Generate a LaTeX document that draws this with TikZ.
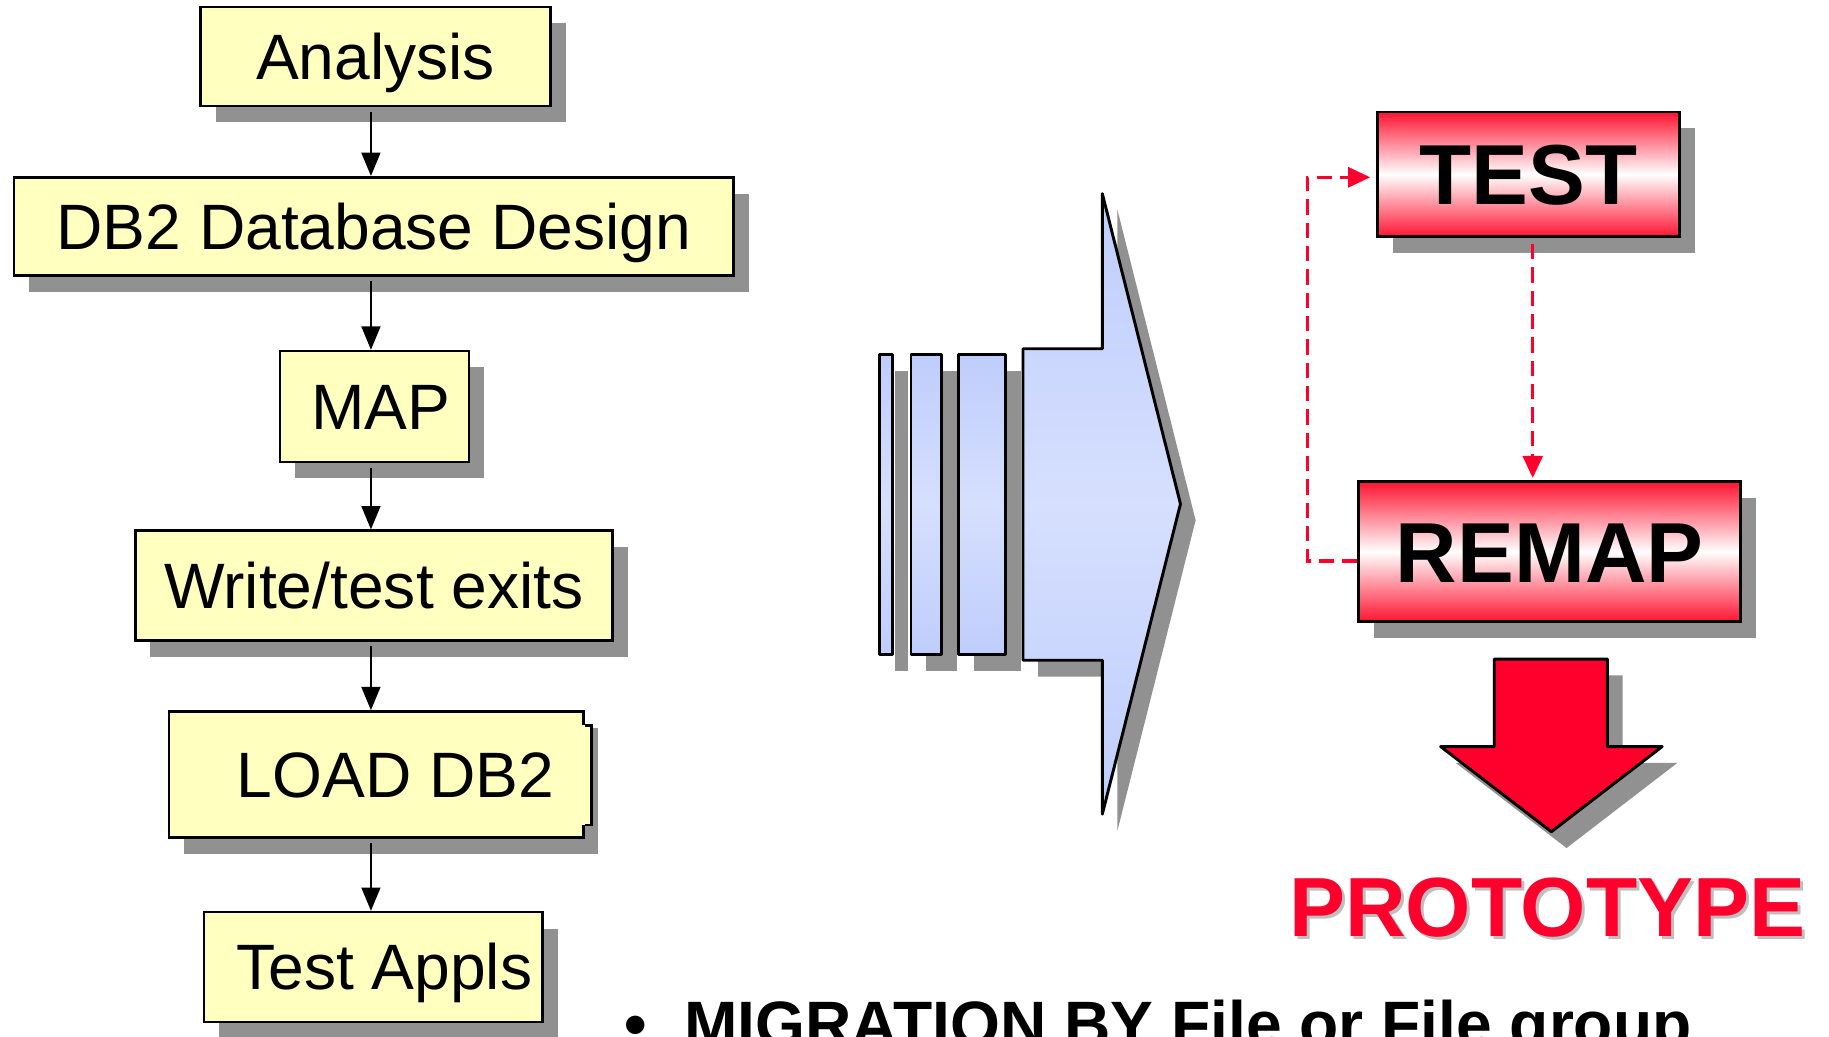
\documentclass[tikz,border=0pt]{standalone}
\usepackage{fontspec}
\setmainfont{Liberation Sans}
\usetikzlibrary{arrows.meta,shadows}

\definecolor{stepyellow}{RGB}{255,255,192}
\definecolor{shadowgray}{RGB}{145,145,145}
\definecolor{flowblue}{RGB}{190,205,252}
\definecolor{flowbluelight}{RGB}{214,223,253}
\definecolor{protored}{RGB}{255,0,44}
\definecolor{bandred}{RGB}{255,20,50}

\tikzset{
    boxshadow/.style={drop shadow={shadow xshift=13pt, shadow yshift=-14pt, fill=shadowgray, opacity=1}},
    stepbox/.style={draw, line width=2.2pt, fill=stepyellow, boxshadow, inner sep=0pt,
        text height=39pt, text depth=0pt, font=\fontsize{55}{66}\selectfont},
    flow/.style={line width=2.2pt, -{Triangle[length=20pt, width=16pt]}},
    redbox/.style={draw, line width=2.5pt, top color=bandred, bottom color=bandred, middle color=white,
        boxshadow, inner sep=0pt, text height=52pt, text depth=0pt, font=\fontsize{73}{88}\selectfont\bfseries},
    retryline/.style={protored, line width=3pt, dash pattern=on 13pt off 7pt, -{Triangle[length=19pt, width=17pt]}},
    blueshape/.style={draw, line width=2.5pt, line join=round, top color=flowblue, bottom color=flowblue,
        middle color=flowbluelight, boxshadow},
}

\begin{document}
\begin{tikzpicture}[x=1pt, y=-1pt]
    \useasboundingbox (0,0) rectangle (1568,889);
    \clip (0,0) rectangle (1568,889);

    \node[stepbox, minimum width=300pt, minimum height=85pt] (analysis) at (322,48.5) {Analysis};
    \node[stepbox, minimum width=617pt, minimum height=84pt] (design) at (320.5,194) {DB2 Database Design};
    \node[stepbox, minimum width=162pt, minimum height=95pt] (map) at (321,348.5) {\hspace*{11pt}MAP};
    \node[stepbox, minimum width=409pt, minimum height=94pt] (exits) at (320.5,502) {Write/test exits};
    \node[stepbox, minimum width=355pt, minimum height=108pt] (load) at (322.5,664) {\hspace*{33pt}LOAD DB2};
    \node[stepbox, minimum width=290pt, minimum height=94pt] (appls) at (320,829) {\hspace*{19pt}Test Appls};

    % small step on the right side of the load box
    \fill[stepyellow] ([shift={(-3,13)}]load.north east) rectangle ([shift={(6,-12)}]load.south east);
    \draw[line width=2.2pt] ([shift={(0,13)}]load.north east) -- ++(6,0) |- ([shift={(0,-12)}]load.south east);

    \coordinate (spine) at (318,0);
    \foreach \a/\b in {analysis/design, design/map, map/exits, exits/load, load/appls}
        \draw[flow] ([yshift=-4pt]\a.south -| spine) -- (\b.north -| spine);

    \foreach \l/\r in {754/765, 781/807, 822/862}
        \path[blueshape] (\l,304) rectangle (\r,561);
    \path[blueshape] (877,299) -- (945,299) -- (945,166) -- (1012,432) -- (945,698) -- (945,566) -- (877,566) -- cycle;

    \node[redbox, minimum width=259pt, minimum height=107pt] (test) at (1310.5,149.5) {TEST};
    \node[redbox, minimum width=327pt, minimum height=120pt,
        path picture={\fill[top color=bandred, bottom color=bandred, middle color=white]
            ([shift={(34,8)}]path picture bounding box.north west) rectangle ([shift={(-36,-7)}]path picture bounding box.south east);}]
        (remap) at (1328.5,473) {REMAP};

    \draw[retryline] ([xshift=3.5pt, yshift=-5pt]test.south) -- ([xshift=3.5pt, yshift=2pt]test.south |- remap.north);
    \draw[retryline] ([yshift=-8pt]remap.west) -- ++(-43,0) |- ([xshift=-5pt, yshift=-2.5pt]test.west);

    \path[draw, line width=2.5pt, line join=round, fill=protored, boxshadow]
        (1281,565) -- (1378,565) -- (1378,640) -- (1425,640) -- (1330,713) -- (1235,640) -- (1281,640) -- cycle;

    \node[anchor=base, inner sep=0pt, text=black!25, font=\fontsize{72}{86}\selectfont\bfseries] (protoshadow) at (1329,805.5) {PROTOTYPE};
    \node[anchor=base, inner sep=0pt, text=protored, font=\fontsize{72}{86}\selectfont\bfseries] (proto) at (1326.5,803) {PROTOTYPE};

    \node[anchor=base west, inner sep=0pt, font=\fontsize{55}{66}\selectfont\bfseries] (migration) at (535,897)
        {\textbullet\hspace{32pt}MIGRATION BY File or File group};
\end{tikzpicture}
\end{document}
